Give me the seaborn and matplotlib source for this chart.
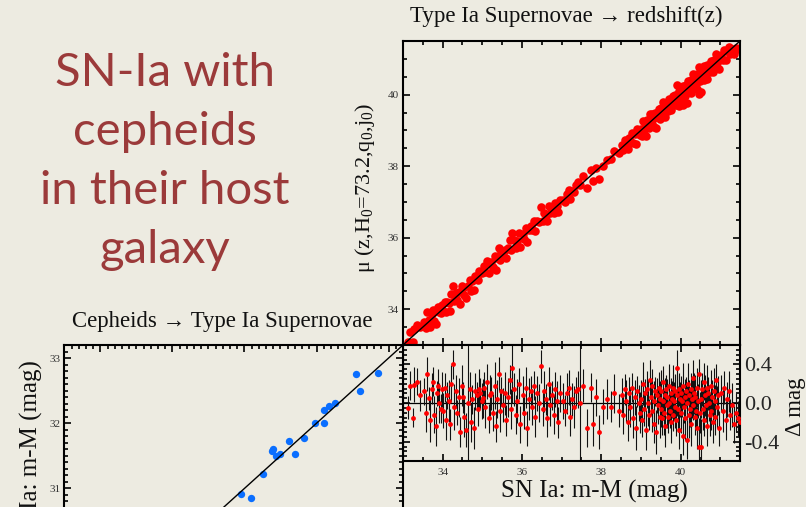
import matplotlib
matplotlib.use("Agg")
import matplotlib.pyplot as plt
from matplotlib.ticker import MultipleLocator, FormatStrFormatter
import pandas as pd
import seaborn as sns

# ---------------- data ----------------
# SN Ia distance moduli (m-M), Hubble residuals and their errors
sn_mM = [
    33.12, 33.18, 33.24, 33.27, 33.35, 33.42,
    33.52, 33.58, 33.61, 33.66, 33.69, 33.72, 33.75, 33.79, 33.83, 33.86, 33.88, 33.92, 33.95, 33.98,
    34.02, 34.05, 34.09, 34.12, 34.15, 34.18, 34.22, 34.25, 34.28, 34.33, 34.37, 34.41, 34.45, 34.48,
    34.52, 34.55, 34.60, 34.64, 34.68, 34.71, 34.75, 34.79, 34.82, 34.86, 34.89, 34.92, 34.95, 34.98,
    35.02, 35.05, 35.08, 35.12, 35.16, 35.19, 35.23, 35.27, 35.31, 35.35, 35.38, 35.42, 35.45, 35.48,
    35.53, 35.57, 35.61, 35.65, 35.69, 35.73, 35.76, 35.80, 35.84, 35.88, 35.92, 35.96,
    36.02, 36.06, 36.10, 36.14, 36.18, 36.22, 36.26, 36.30, 36.34, 36.38, 36.43, 36.47,
    36.52, 36.56, 36.60, 36.64, 36.68, 36.72, 36.76, 36.80, 36.84, 36.88, 36.92, 36.96,
    37.03, 37.08, 37.13, 37.18, 37.22, 37.27, 37.32, 37.36, 37.41, 37.46,
    37.55, 37.64, 37.73, 37.80, 37.88, 37.95,
    38.05, 38.14, 38.25, 38.33, 38.44,
    38.52, 38.56, 38.60, 38.63, 38.67, 38.70, 38.73, 38.77, 38.80, 38.84, 38.87, 38.91, 38.94, 38.97,
    39.01, 39.03, 39.06, 39.08, 39.11, 39.13, 39.15, 39.18, 39.20, 39.22, 39.25, 39.27, 39.29, 39.32,
    39.34, 39.36, 39.38, 39.41, 39.43, 39.45, 39.47, 39.49,
    39.51, 39.52, 39.54, 39.56, 39.57, 39.59, 39.61, 39.62, 39.64, 39.66, 39.67, 39.69, 39.71, 39.72,
    39.74, 39.76, 39.77, 39.79, 39.81, 39.82, 39.84, 39.86, 39.87, 39.89, 39.91, 39.92, 39.94, 39.96,
    39.97, 39.99,
    40.01, 40.02, 40.04, 40.06, 40.07, 40.09, 40.11, 40.12, 40.14, 40.16, 40.17, 40.19, 40.21, 40.22,
    40.24, 40.26, 40.27, 40.29, 40.31, 40.32, 40.34, 40.36, 40.37, 40.39, 40.41, 40.42, 40.44, 40.46,
    40.47, 40.49,
    40.51, 40.52, 40.54, 40.56, 40.58, 40.60, 40.62, 40.64, 40.66, 40.68, 40.70, 40.72, 40.74, 40.76,
    40.78, 40.80, 40.82, 40.84, 40.86, 40.88, 40.90, 40.93, 40.95, 40.98,
    41.02, 41.06, 41.10, 41.14, 41.18, 41.22, 41.26, 41.30, 41.35, 41.40, 41.45, 41.50,
]
sn_resid = [
    -0.05, 0.18, -0.15, 0.19, 0.22, 0.08,
    0.12, -0.10, 0.30, 0.05, -0.18, 0.15, 0.22, -0.12, -0.24, 0.10, 0.18, 0.00, -0.06, 0.14,
    -0.08, 0.16, -0.18, 0.08, 0.02, -0.22, 0.20, 0.40, -0.04, 0.12, -0.10, 0.06, -0.30, 0.18,
    0.06, -0.14, -0.28, 0.00, 0.15, -0.20, 0.04, -0.26, 0.12, 0.08, -0.06, 0.14, 0.10, 0.02,
    0.05, 0.16, -0.04, 0.22, -0.16, 0.08, 0.10, -0.10, 0.18, -0.24, 0.04, 0.30, -0.08, 0.12,
    -0.02, 0.10, -0.18, 0.06, 0.24, -0.06, 0.36, 0.14, -0.12, 0.02, 0.20, -0.22,
    0.08, -0.10, 0.16, -0.26, 0.04, 0.12, -0.04, 0.18, -0.14, 0.10, 0.00, 0.38,
    -0.06, 0.12, 0.04, -0.16, 0.20, -0.02, 0.08, -0.12, 0.14, 0.02, -0.20, 0.10,
    0.02, -0.08, 0.10, 0.16, -0.14, 0.04, -0.04, 0.12, 0.14, 0.00,
    0.18, -0.26, 0.16, -0.22, 0.06, -0.30,
    -0.04, 0.04, -0.04, 0.10, -0.08,
    0.08, -0.12, 0.14, 0.02, -0.20, 0.10, -0.04, 0.16, -0.16, 0.06, -0.26, 0.12, 0.00, -0.10,
    0.04, -0.18, 0.20, -0.06, 0.10, -0.28, 0.14, 0.00, -0.12, 0.24, 0.06, -0.08, 0.18, -0.22,
    0.02, 0.12, -0.30, 0.08, -0.02, 0.16, -0.14, 0.04,
    -0.06, 0.12, -0.16, 0.02, 0.22, -0.10, 0.08, -0.24, 0.14, -0.02, 0.06, -0.14, 0.18, 0.00,
    -0.08, 0.10, -0.20, 0.04, 0.16, -0.12, 0.02, -0.04, 0.12, -0.18, 0.08, 0.36, -0.06, 0.14,
    -0.28, 0.04,
    0.10, -0.10, 0.02, -0.34, 0.18, -0.04, 0.06, -0.16, 0.12, -0.38, 0.00, 0.20, -0.12, 0.08,
    -0.06, 0.14, -0.22, 0.04, 0.26, -0.02, 0.10, -0.14, 0.06, -0.08, 0.16, -0.26, 0.02, 0.30,
    -0.46, -0.10,
    0.04, -0.45, 0.14, -0.06, 0.22, -0.18, 0.08, -0.02, 0.16, -0.24, 0.10, 0.00, -0.12, 0.18,
    -0.08, 0.06, -0.20, 0.12, 0.02, -0.14, 0.24, -0.04, 0.08, -0.26,
    0.10, -0.08, 0.16, -0.18, 0.04, 0.12, -0.12, -0.02, -0.22, -0.10, -0.16, -0.20,
]
sn_err = [
    0.12, 0.15, 0.10, 0.18, 0.14, 0.16,
    0.14, 0.20, 0.18, 0.12, 0.22, 0.16, 0.15, 0.19, 0.20, 0.13, 0.17, 0.21, 0.15, 0.18,
    0.18, 0.15, 0.20, 0.14, 0.22, 0.16, 0.19, 0.15, 0.24, 0.17, 0.13, 0.20, 0.16, 0.21,
    0.16, 0.21, 0.18, 0.62, 0.17, 0.20, 0.15, 0.22, 0.19, 0.14, 0.18, 0.21, 0.16, 0.19,
    0.20, 0.16, 0.22, 0.18, 0.15, 0.21, 0.17, 0.19, 0.24, 0.16, 0.20, 0.18, 0.22, 0.15,
    0.18, 0.22, 0.16, 0.20, 0.15, 0.21, 0.36, 0.17, 0.20, 0.23, 0.16, 0.19,
    0.20, 0.17, 0.21, 0.18, 0.22, 0.16, 0.19, 0.15, 0.21, 0.18, 0.20, 0.17,
    0.18, 0.21, 0.16, 0.19, 0.17, 0.22, 0.15, 0.20, 0.18, 0.21, 0.16, 0.19,
    0.19, 0.16, 0.21, 0.18, 0.20, 0.17, 0.22, 0.15, 0.19, 0.75,
    0.17, 0.20, 0.15, 0.22, 0.19, 0.18,
    0.18, 0.21, 0.16, 0.20, 0.17,
    0.18, 0.20, 0.16, 0.22, 0.19, 0.17, 0.21, 0.15, 0.20, 0.18, 0.23, 0.16, 0.19, 0.21,
    0.20, 0.17, 0.22, 0.18, 0.15, 0.21, 0.19, 0.24, 0.16, 0.20, 0.18, 0.22, 0.17, 0.19,
    0.21, 0.15, 0.23, 0.18, 0.20, 0.16, 0.22, 0.19,
    0.19, 0.22, 0.17, 0.20, 0.16, 0.23, 0.18, 0.21, 0.15, 0.24, 0.19, 0.17, 0.22, 0.20,
    0.18, 0.16, 0.21, 0.19, 0.23, 0.17, 0.20, 0.22, 0.18, 0.16, 0.21, 0.19, 0.24, 0.17,
    0.20, 0.18,
    0.18, 0.21, 0.16, 0.20, 0.23, 0.17, 0.19, 0.22, 0.15, 0.20, 0.18, 0.21, 0.24, 0.16,
    0.19, 0.17, 0.22, 0.20, 0.18, 0.16, 0.21, 0.19, 0.23, 0.17, 0.20, 0.22, 0.18, 0.16,
    0.30, 0.21,
    0.20, 0.28, 0.17, 0.22, 0.19, 0.16, 0.21, 0.18, 0.23, 0.20, 0.17, 0.19, 0.22, 0.16,
    0.20, 0.18, 0.21, 0.24, 0.17, 0.19, 0.16, 0.22, 0.20, 0.18,
    0.19, 0.22, 0.17, 0.20, 0.18, 0.21, 0.16, 0.23, 0.19, 0.20, 0.18, 0.21,
]

# Cepheid host galaxies: Cepheid m-M vs SN Ia m-M
ceph_mM = [32.55, 32.85, 32.60, 32.25, 32.17, 32.10, 32.11, 31.98, 31.82,
           31.62, 31.70, 31.50, 31.44, 31.40, 31.38, 31.26, 30.95, 31.09]
ceph_sn_mM = [32.75, 32.77, 32.49, 32.31, 32.26, 32.21, 32.00, 32.00, 31.78,
              31.72, 31.53, 31.53, 31.50, 31.60, 31.57, 31.22, 30.91, 30.85]

# one-to-one reference lines (start, end)
top_line = [33.0, 41.5]
cep_line = [28.5, 33.2]

# ---------------- style ----------------
BG = "#EDEBE1"
sns.set_style("ticks")
plt.rcParams["font.family"] = ["Liberation Serif", "DejaVu Serif"]
plt.rcParams["mathtext.fontset"] = "custom"
plt.rcParams["mathtext.rm"] = "Liberation Serif"
plt.rcParams["mathtext.it"] = "Liberation Serif:italic"
plt.rcParams["axes.unicode_minus"] = False

W, H = 806, 507
fig = plt.figure(figsize=(W / 100, H / 100), dpi=100, facecolor=BG)


def frac(l, t, r, b):
    return [l / W, 1 - b / H, (r - l) / W, (b - t) / H]


ax_top = fig.add_axes(frac(403, 41, 740, 345))
ax_res = fig.add_axes(frac(403, 345, 740, 461))
ax_cep = fig.add_axes(frac(64.3, 345, 403, 651.4))

for ax in (ax_top, ax_res, ax_cep):
    ax.set_facecolor(BG)
    for s in ax.spines.values():
        s.set_linewidth(1.5)
        s.set_color("black")
    ax.tick_params(which="both", direction="in", top=True, bottom=True,
                   left=True, right=True, color="black", width=1.2)
    ax.tick_params(which="major", length=5)
    ax.tick_params(which="minor", length=2.6)

# ---- top right: Hubble diagram ----
df_sn = pd.DataFrame({"mM": sn_mM, "resid": sn_resid, "err": sn_err})
df_sn["mu"] = df_sn["mM"] + df_sn["resid"]

sns.scatterplot(data=df_sn, x="mM", y="mu", ax=ax_top, color="#FF0000",
                s=38, linewidth=0, legend=False, zorder=2)
ax_top.plot(top_line, top_line, color="black", lw=1.0, zorder=3)
ax_top.set_xlim(33.0, 41.5)
ax_top.set_ylim(33.0, 41.5)
ax_top.xaxis.set_major_locator(MultipleLocator(2))
ax_top.xaxis.set_minor_locator(MultipleLocator(0.5))
ax_top.yaxis.set_major_locator(MultipleLocator(2))
ax_top.yaxis.set_minor_locator(MultipleLocator(0.5))
ax_top.tick_params(labelbottom=False, labelleft=True, labelsize=8,
                   labelcolor="#333333", pad=3)
ax_top.set_xlabel("")
ax_top.set_ylabel("")

# ---- residuals ----
ax_res.errorbar(df_sn["mM"], df_sn["resid"], yerr=df_sn["err"], fmt="none",
                ecolor="#111111", elinewidth=0.8, capsize=0, zorder=2)
ax_res.axhline(0, color="black", lw=0.9, zorder=1)
sns.scatterplot(data=df_sn, x="mM", y="resid", ax=ax_res, color="#FF0000",
                s=12, linewidth=0, legend=False, zorder=3)
ax_res.set_xlim(33.0, 41.5)
ax_res.set_ylim(-0.6, 0.6)
ax_res.xaxis.set_major_locator(MultipleLocator(2))
ax_res.xaxis.set_minor_locator(MultipleLocator(0.5))
ax_res.yaxis.set_major_locator(MultipleLocator(0.4))
ax_res.yaxis.set_minor_locator(MultipleLocator(0.05))
ax_res.yaxis.set_major_formatter(FormatStrFormatter("%.1f"))
ax_res.tick_params(labelleft=False, labelright=True, labelbottom=True)
ax_res.tick_params(axis="x", labelsize=8, labelcolor="#333333", pad=5)
ax_res.tick_params(axis="y", labelsize=16, pad=3)
ax_res.set_xlabel("")
ax_res.set_ylabel("")

# ---- bottom left: Cepheids -> SN Ia ----
df_c = pd.DataFrame({"ceph": ceph_mM, "sn": ceph_sn_mM})
sns.scatterplot(data=df_c, x="ceph", y="sn", ax=ax_cep, color="#0A6EFF",
                s=28, linewidth=0, legend=False, zorder=2)
ax_cep.plot(cep_line, cep_line, color="black", lw=1.0, zorder=3, clip_on=False)
ax_cep.set_xlim(28.5, 33.2)
ax_cep.set_ylim(28.5, 33.2)
ax_cep.xaxis.set_major_locator(MultipleLocator(1))
ax_cep.xaxis.set_minor_locator(MultipleLocator(0.1))
ax_cep.yaxis.set_major_locator(MultipleLocator(1))
ax_cep.yaxis.set_minor_locator(MultipleLocator(0.1))
ax_cep.yaxis.set_major_formatter(FormatStrFormatter("%d"))
ax_cep.tick_params(labelbottom=False, labeltop=False, labelleft=True,
                   labelsize=8, labelcolor="#333333", pad=3)
ax_cep.set_xlabel("")
ax_cep.set_ylabel("")

# ---------------- texts ----------------
fig.text(566.5 / W, 1 - 16 / H, "Type Ia Supernovae \u2192 redshift(z)",
         ha="center", va="center", fontsize=16.5, color="#111111")
fig.text(222 / W, 1 - 321 / H, "Cepheids \u2192 Type Ia Supernovae",
         ha="center", va="center", fontsize=16.4, color="#111111")
fig.text(365 / W, 1 - 188 / H, "\u03bc (z,H$_0$=73.2,q$_0$,j$_0$)",
         ha="center", va="center", rotation=90, fontsize=16, color="#111111")
fig.text(594.7 / W, 1 - 491 / H, "SN Ia: m-M (mag)",
         ha="center", va="center", fontsize=18, color="#111111")
fig.text(795 / W, 1 - 407 / H, "\u0394 mag",
         ha="center", va="center", rotation=90, fontsize=16.5, color="#111111")
fig.text(31 / W, 1 - 360 / H, "SN Ia: m-M (mag)",
         ha="center", va="top", rotation=90, fontsize=18, color="#111111")

fig.text(165 / W, 1 - 161.5 / H, "SN-Ia with\ncepheids\nin their host\ngalaxy",
         ha="center", va="center", multialignment="center",
         fontsize=34, linespacing=1.5, color="#9B3A3A", family="Lato",
         fontweight="normal")

fig.savefig("out.png", dpi=100, facecolor=BG)
